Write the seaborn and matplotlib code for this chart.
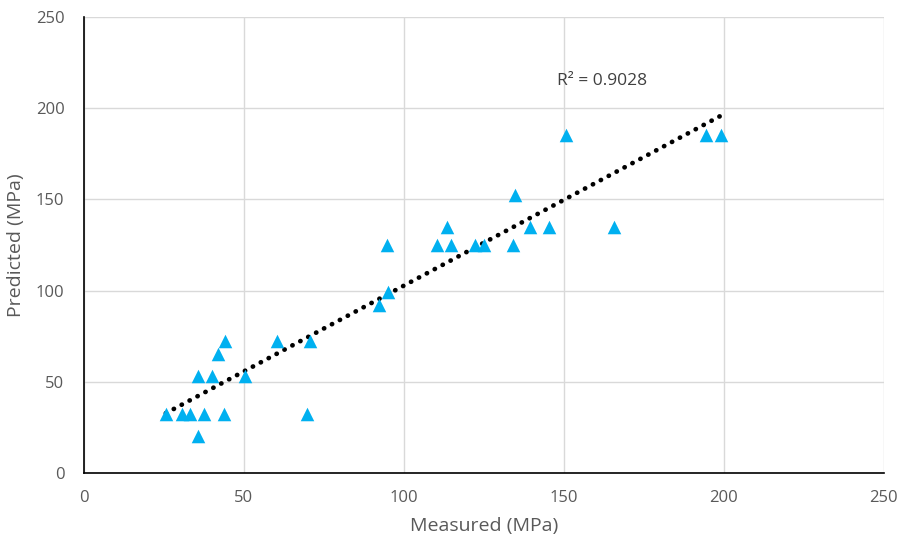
import numpy as np
import pandas as pd
import matplotlib
matplotlib.use('Agg')
import matplotlib.pyplot as plt
import seaborn as sns

# measured vs predicted strength (MPa)
measured = [25.6, 30.5, 33.1, 37.5, 43.7, 69.6, 35.7, 35.7, 39.9, 50.5,
            42.0, 44.1, 60.2, 70.6,
            94.6, 92.3, 95.1, 110.5, 113.6, 114.6, 122.2, 125.0, 134.0,
            134.9, 139.4, 145.3, 165.7,
            150.8, 194.4, 199.3]
predicted = [32.5, 32.5, 32.5, 32.5, 32.5, 32.5, 20.0, 53.0, 53.0, 53.0,
             65.0, 72.5, 72.5, 72.5,
             125.0, 92.0, 99.4, 125.0, 135.0, 125.0, 125.0, 125.0, 125.0,
             152.4, 135.0, 135.0, 135.0,
             185.0, 185.0, 185.0]
r2_label = 'R² = 0.9028'

df = pd.DataFrame({'Measured': measured, 'Predicted': predicted})

sns.set_style('white')
plt.rcParams['font.family'] = ['Open Sans', 'DejaVu Sans']

fig = plt.figure(figsize=(8.98, 5.47), dpi=100)
ax = fig.add_axes([0.0935, 0.1353, 0.8905, 0.834])

# dotted trendline, round dots like Excel's "round dot" style
sns.regplot(data=df, x='Measured', y='Predicted', ax=ax, ci=None, scatter=False,
            line_kws=dict(color='black', linestyle=(0, (0.05, 1.85)), linewidth=3.4,
                          dash_capstyle='round', zorder=2))
sns.scatterplot(data=df, x='Measured', y='Predicted', ax=ax, marker='^', s=95,
                color='#00B0F0', edgecolor='#00B0F0', linewidth=0, zorder=3)

ax.set_xlim(0, 250)
ax.set_ylim(0, 250)
ax.set_xticks(np.arange(0, 251, 50))
ax.set_yticks(np.arange(0, 251, 50))
ax.grid(True, color='#D9D9D9', linewidth=1)
ax.set_axisbelow(True)
for s in ['top', 'right']:
    ax.spines[s].set_visible(False)
for s in ['left', 'bottom']:
    ax.spines[s].set_color('black')
    ax.spines[s].set_linewidth(1.2)
ax.tick_params(axis='both', length=0, labelsize=12, colors='#595959', pad=12)
ax.tick_params(axis='y', pad=14)

ax.set_xlabel('Measured (MPa)', fontsize=14, color='#595959', labelpad=8)
ax.set_ylabel('Predicted (MPa)', fontsize=14, color='#595959', labelpad=8)

ax.text(148, 215, r2_label, fontsize=12.5, color='#404040', va='center', ha='left')

fig.savefig('out.png', dpi=100)
